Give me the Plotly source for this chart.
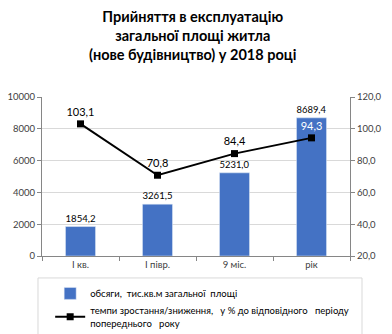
import plotly.graph_objects as go

categories = ["I кв.", "I півр.", "9 міс.", "рік"]
volumes = [1854.2, 3261.5, 5231.0, 8689.4]
rates = [103.1, 70.8, 84.4, 94.3]
left_ticks = [0, 2000, 4000, 6000, 8000, 10000]
right_ticks = [20, 40, 60, 80, 100, 120]
bar_name = "обсяги,  тис.кв.м загальної  площі"
line_name = "темпи зростання/зниження,   у % до відповідного   періоду<br>попереднього   року"
title_text = "<b>Прийняття в експлуатацію<br>загальної площі житла<br>(нове будівництво) у 2018 році</b>"

def fmt(v):
    return f"{v:.1f}".replace(".", ",")

FONT = "Lato"
fig = go.Figure()
fig.add_trace(go.Bar(
    x=categories, y=volumes, name=bar_name, marker_color="#4472C4",
    width=0.39, text=[fmt(v) for v in volumes], textposition="outside",
    textfont=dict(size=11, color="#000000", family=FONT), cliponaxis=False,
))
fig.add_trace(go.Scatter(
    x=categories, y=rates, name=line_name, yaxis="y2", mode="lines+markers+text",
    line=dict(color="#000000", width=2), marker=dict(symbol="square", size=7, color="#000000"),
    text=[fmt(v) for v in rates], textposition="top center",
    textfont=dict(size=11, color=["#000000", "#000000", "#000000", "#FFFFFF"], family=FONT),
    cliponaxis=False,
))
fig.update_layout(
    width=392, height=334,
    margin=dict(l=42, r=42, t=97, b=78, autoexpand=False),
    paper_bgcolor="white", plot_bgcolor="white",
    font=dict(family=FONT, size=9, color="#404040"),
    xaxis=dict(showline=True, linecolor="#868686", ticks="outside", tickson="boundaries",
               ticklen=4, tickcolor="#868686", showgrid=False, tickfont=dict(size=9.5)),
    yaxis=dict(range=[0, 10000], tickvals=left_ticks, ticktext=[str(v) for v in left_ticks],
               showline=True, linecolor="#868686", ticks="outside", ticklen=4, tickcolor="#868686",
               gridcolor="#D9D9D9", gridwidth=1, zeroline=False, tickfont=dict(size=9.5)),
    yaxis2=dict(range=[20, 120], tickvals=right_ticks, ticktext=[fmt(v) for v in right_ticks],
                overlaying="y", side="right", showline=True, linecolor="#868686", ticks="outside",
                ticklen=4, tickcolor="#868686", showgrid=False, zeroline=False, tickfont=dict(size=9.5)),
    showlegend=True,
    legend=dict(xref="container", yref="container", x=0.128, y=0.165, xanchor="left", yanchor="top",
                orientation="v", font=dict(size=9.5, color="#000000", family=FONT),
                bgcolor="rgba(0,0,0,0)", tracegroupgap=4),
    annotations=[dict(text=title_text, xref="paper", yref="paper", x=0.49, y=1.575,
                      xanchor="center", yanchor="top", showarrow=False,
                      font=dict(size=14.5, color="#000000", family=FONT))],
    shapes=[dict(type="rect", xref="paper", yref="paper", x0=-0.013, x1=1.039, y0=-0.52, y1=-0.138,
                 line=dict(color="#D9D9D9", width=1), fillcolor="rgba(0,0,0,0)", layer="below")],
)
fig.write_html("out.html")
